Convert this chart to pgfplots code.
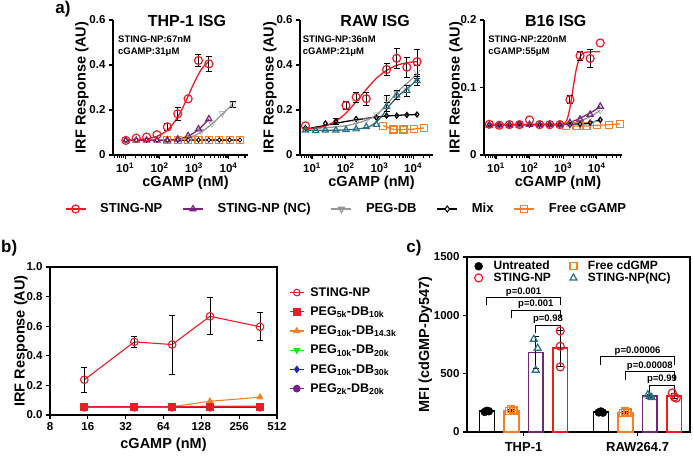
\documentclass[border=0pt]{standalone}
\usepackage{fontspec}
\setmainfont{Liberation Sans}
\usepackage{pgfplots}
\pgfplotsset{compat=1.18}

\definecolor{npred}{RGB}{236,28,36}
\definecolor{ncpurple}{RGB}{118,38,122}
\definecolor{pegray}{RGB}{150,150,150}
\definecolor{freeorange}{RGB}{245,128,37}
\definecolor{ncteal}{RGB}{38,112,130}
\definecolor{bgreen}{RGB}{40,220,40}
\definecolor{bblue}{RGB}{28,40,190}
\definecolor{bpurple}{RGB}{122,30,150}

\newcommand\tickf{\fontsize{11.5bp}{12bp}\selectfont\bfseries}
\newcommand\labf{\fontsize{14.5bp}{16bp}\selectfont\bfseries}
\newcommand\titf{\fontsize{16bp}{18bp}\selectfont\bfseries}
\newcommand\annf{\fontsize{9.5bp}{11bp}\selectfont\bfseries}
\newcommand\legaf{\fontsize{13bp}{14bp}\selectfont\bfseries}
\newcommand\legbf{\fontsize{12.5bp}{14bp}\selectfont\bfseries}
\newcommand\legcf{\fontsize{12bp}{13bp}\selectfont\bfseries}
\newcommand\pf{\fontsize{9.5bp}{11bp}\selectfont\bfseries}
\newcommand\tagf{\fontsize{17bp}{19bp}\selectfont\bfseries}

% error bar look shared by all panels
\pgfplotsset{
  errbars/.style={
    error bars/y dir=both, error bars/y explicit,
    error bars/error bar style={draw=black,line width=0.9bp},
    error bars/error mark options={rotate=90,draw=black,mark size=3bp,line width=0.9bp}},
  errsonly/.style={draw=none, mark=none, forget plot, errbars},
  fitline/.style={smooth, no marks, line width=1.3bp, forget plot},
  dots/.style={only marks, forget plot, mark options={line width=1.2bp, solid}},
}

\begin{document}
\begin{tikzpicture}
\useasboundingbox (0bp,0bp) rectangle (693bp,-459bp);

% ---------------- a) THP-1 ISG ----------------
\begin{axis}[scale only axis, width=135bp, height=135bp, anchor=south west, at={(113bp,-155bp)},
  xmode=log, axis lines*=left, axis line style={line width=1.6bp},
  tick align=outside, tick style={black, line width=1.1bp},
  major tick length=4bp, minor tick length=2.5bp,
  xtick={10,100,1000,10000},
  xticklabels={10\textsuperscript{1},10\textsuperscript{2},10\textsuperscript{3},10\textsuperscript{4}},
  minor xtick={5,6,7,8,9,20,30,40,50,60,70,80,90,200,300,400,500,600,700,800,900,2000,3000,4000,5000,6000,7000,8000,9000,20000,30000},
  ytick pos=left, xtick pos=bottom, ticklabel style={font=\tickf},
  xlabel={cGAMP (nM)}, ylabel={IRF Response (AU)}, label style={font=\labf},
  xlabel style={xshift=5bp, yshift=3bp}, ylabel style={yshift=-6bp}, clip=false,
  xmin=4.45, xmax=36700, ymin=0, ymax=0.6,
  ytick={0,0.2,0.4,0.6}, yticklabels={0,0.2,0.4,0.6},
  legend columns=5,
  legend image code/.code={\draw[mark repeat=2,mark phase=2,#1] plot coordinates {(0bp,0bp) (10bp,0bp) (20bp,0bp)};},
  legend style={at={(1.73,-0.40)}, anchor=center, draw=none, fill=none, font=\legaf,
    /tikz/every odd column/.append style={column sep=12bp},
    /tikz/every even column/.append style={column sep=18bp}}]
% free cGAMP
\addplot[freeorange, line width=1.3bp, forget plot] coordinates {(168,0.065) (21504,0.065)};
\addplot[dots, freeorange, mark=square, mark size=3.5bp] coordinates {(168,0.065) (336,0.065) (672,0.065) (1344,0.065) (2688,0.065) (5376,0.065) (10752,0.065) (21504,0.065)};
% mix
\addplot[black, line width=1.3bp, forget plot, mark=diamond*, mark size=2.3bp, mark options={fill=white, line width=0.8bp}] coordinates {(10.5,0.066) (21,0.066) (42,0.066) (84,0.066) (168,0.066) (336,0.066) (672,0.066) (1344,0.067) (2688,0.067) (5376,0.067) (10752,0.067) (21504,0.067)};
% PEG-DB
\addplot[fitline, pegray] coordinates {(200,0.065) (400,0.068) (800,0.078) (1600,0.102) (3300,0.138) (6600,0.182) (13200,0.225)};
\addplot[errsonly] coordinates {(13200,0.225) +- (0,0.012)};
\addplot[dots, pegray, mark=triangle, mark size=3.5bp, mark options={rotate=180}] coordinates {(400,0.067) (800,0.077) (1600,0.105) (3300,0.138) (6600,0.185) (13200,0.225)};
% STING-NP (NC)
\addplot[fitline, ncpurple] coordinates {(10.5,0.065) (84,0.065) (168,0.066) (336,0.071) (672,0.084) (1344,0.113) (2688,0.16)};
\addplot[dots, ncpurple, mark=triangle, mark size=3.5bp] coordinates {(10.5,0.065) (21,0.065) (42,0.065) (84,0.065) (168,0.066) (336,0.07) (672,0.085) (1344,0.115) (2688,0.16)};
% STING-NP
\addplot[fitline, npred] coordinates {(10.5,0.066) (20,0.068) (40,0.072) (80,0.082) (150,0.104) (250,0.14) (400,0.19) (600,0.245) (900,0.305) (1300,0.355) (1800,0.39) (2700,0.415)};
\addplot[errsonly] coordinates {(168,0.125) +- (0,0.017) (336,0.183) +- (0,0.03) (1344,0.42) +- (0,0.025) (2688,0.405) +- (0,0.035)};
\addplot[dots, npred, mark=o, mark size=4bp] coordinates {(10.5,0.065) (21,0.075) (42,0.08) (84,0.09) (168,0.125) (336,0.183) (672,0.25) (1344,0.42) (2688,0.405)};
% legend
\addlegendimage{npred, line width=1.3bp, mark=o, mark size=4bp, mark options={line width=1.2bp}}
\addlegendentry{STING-NP}
\addlegendimage{ncpurple, line width=1.3bp, mark=triangle, mark size=3.5bp, mark options={line width=1.2bp}}
\addlegendentry{STING-NP (NC)}
\addlegendimage{pegray, line width=1.3bp, mark=triangle, mark size=3.5bp, mark options={rotate=180, line width=1.2bp}}
\addlegendentry{PEG-DB}
\addlegendimage{black, line width=1.3bp, mark=diamond*, mark size=3bp, mark options={fill=white, line width=1bp}}
\addlegendentry{Mix}
\addlegendimage{freeorange, line width=1.3bp, mark=square, mark size=3.5bp, mark options={line width=1.2bp}}
\addlegendentry{Free cGAMP}
\node[font=\titf] at (rel axis cs:0.548,0.993) {THP-1 ISG};
\node[font=\annf, anchor=west, inner sep=0pt] at (rel axis cs:0.037,0.859) {STING-NP:67nM};
\node[font=\annf, anchor=west, inner sep=0pt] at (rel axis cs:0.037,0.761) {cGAMP:31μM};
\end{axis}

% ---------------- a) RAW ISG ----------------
\begin{axis}[scale only axis, width=133bp, height=135bp, anchor=south west, at={(300bp,-155bp)},
  xmode=log, axis lines*=left, axis line style={line width=1.6bp},
  tick align=outside, tick style={black, line width=1.1bp},
  major tick length=4bp, minor tick length=2.5bp,
  xtick={10,100,1000,10000},
  xticklabels={10\textsuperscript{1},10\textsuperscript{2},10\textsuperscript{3},10\textsuperscript{4}},
  minor xtick={5,6,7,8,9,20,30,40,50,60,70,80,90,200,300,400,500,600,700,800,900,2000,3000,4000,5000,6000,7000,8000,9000,20000,30000},
  ytick pos=left, xtick pos=bottom, ticklabel style={font=\tickf},
  xlabel={cGAMP (nM)}, ylabel={IRF Response (AU)}, label style={font=\labf},
  xlabel style={xshift=5bp, yshift=3bp}, ylabel style={yshift=-7bp}, clip=false,
  xmin=4.4, xmax=38900, ymin=0, ymax=0.6,
  ytick={0,0.2,0.4,0.6}, yticklabels={0,0.2,0.4,0.6}]
% free cGAMP
\addplot[freeorange, line width=1.3bp, forget plot, mark=square, mark size=3.5bp, mark options={line width=1.2bp}] coordinates {(1300,0.13) (2600,0.113) (5200,0.113) (10400,0.115) (20800,0.12)};
% mix
\addplot[fitline, black] coordinates {(6.4,0.115) (30,0.134) (100,0.149) (300,0.16) (1000,0.17) (3000,0.176) (13040,0.18)};
\addplot[errsonly] coordinates {(51,0.15) +- (0,0.012)};
\addplot[dots, black, mark=diamond, mark size=2.5bp] coordinates {(6.4,0.12) (25,0.14) (51,0.15) (204,0.16) (816,0.166) (1630,0.175) (3260,0.175) (6520,0.178) (13040,0.18)};
% PEG-DB
\addplot[fitline, pegray] coordinates {(6.4,0.115) (100,0.13) (500,0.16) (1000,0.19) (2000,0.24) (4000,0.29) (8000,0.33) (13040,0.36)};
\addplot[errsonly] coordinates {(1630,0.25) +- (0,0.015) (13040,0.37) +- (0,0.03)};
\addplot[dots, pegray, mark=triangle, mark size=3.5bp, mark options={rotate=180}] coordinates {(204,0.145) (408,0.155) (816,0.18) (1630,0.25) (3260,0.275) (6520,0.29) (13040,0.37)};
% STING-NP (NC)
\addplot[fitline, ncteal] coordinates {(6.4,0.11) (50,0.11) (200,0.115) (500,0.126) (1000,0.16) (2000,0.22) (4000,0.268) (8000,0.305) (13040,0.335)};
\addplot[errsonly] coordinates {(1630,0.215) +- (0,0.02) (3260,0.265) +- (0,0.02) (6520,0.285) +- (0,0.025) (13040,0.33) +- (0,0.02)};
\addplot[dots, ncteal, mark=triangle, mark size=3.5bp] coordinates {(6.4,0.11) (12.8,0.108) (25,0.11) (51,0.11) (102,0.112) (204,0.115) (408,0.125) (816,0.135) (1630,0.215) (3260,0.265) (6520,0.285) (13040,0.33)};
% STING-NP
\addplot[fitline, npred] coordinates {(6.4,0.115) (20,0.125) (50,0.15) (100,0.185) (200,0.235) (400,0.29) (800,0.34) (1600,0.375) (3200,0.398) (6400,0.41) (13040,0.415)};
\addplot[errsonly] coordinates {(102,0.22) +- (0,0.018) (204,0.257) +- (0,0.022) (408,0.25) +- (0,0.03) (1630,0.38) +- (0,0.025) (3260,0.43) +- (0,0.045) (6520,0.39) +- (0,0.045) (13040,0.415) +- (0,0.055)};
\addplot[dots, npred, mark=o, mark size=4bp] coordinates {(6.4,0.13) (102,0.22) (204,0.257) (408,0.25) (1630,0.38) (3260,0.43) (6520,0.39) (13040,0.415)};
\node[font=\titf] at (rel axis cs:0.565,0.993) {RAW ISG};
\node[font=\annf, anchor=west, inner sep=0pt] at (rel axis cs:0.02,0.859) {STING-NP:36nM};
\node[font=\annf, anchor=west, inner sep=0pt] at (rel axis cs:0.02,0.761) {cGAMP:21μM};
\end{axis}

% ---------------- a) B16 ISG ----------------
\begin{axis}[scale only axis, width=138bp, height=135bp, anchor=south west, at={(484bp,-155bp)},
  xmode=log, axis lines*=left, axis line style={line width=1.6bp},
  tick align=outside, tick style={black, line width=1.1bp},
  major tick length=4bp, minor tick length=2.5bp,
  xtick={10,100,1000,10000},
  xticklabels={10\textsuperscript{1},10\textsuperscript{2},10\textsuperscript{3},10\textsuperscript{4}},
  minor xtick={5,6,7,8,9,20,30,40,50,60,70,80,90,200,300,400,500,600,700,800,900,2000,3000,4000,5000,6000,7000,8000,9000,20000,30000,40000,50000},
  ytick pos=left, xtick pos=bottom, ticklabel style={font=\tickf},
  xlabel={cGAMP (nM)}, ylabel={IRF Response (AU)}, label style={font=\labf},
  xlabel style={xshift=5bp, yshift=3bp}, ylabel style={yshift=-9bp}, clip=false,
  xmin=4.39, xmax=57000, ymin=0, ymax=0.2,
  ytick={0,0.1,0.2}, yticklabels={0,0.1,0.2}]
% free cGAMP
\addplot[freeorange, line width=1.3bp, forget plot, mark=square, mark size=3.5bp, mark options={line width=1.2bp}] coordinates {(1200,0.043) (2500,0.043) (5000,0.043) (10500,0.044) (24000,0.045) (50000,0.046)};
% mix
\addplot[fitline, black] coordinates {(6.3,0.045) (3000,0.046) (6400,0.048) (12800,0.052)};
\addplot[dots, black, mark=diamond, mark size=2.5bp] coordinates {(6.3,0.045) (12.5,0.045) (25,0.045) (50,0.047) (100,0.045) (200,0.045) (400,0.045) (800,0.045) (1600,0.045) (3200,0.046) (6400,0.048) (12800,0.052)};
% PEG-DB
\addplot[fitline, pegray] coordinates {(6.3,0.045) (1000,0.046) (4000,0.052) (12800,0.066)};
\addplot[dots, pegray, mark=triangle, mark size=3.5bp, mark options={rotate=180}] coordinates {(1600,0.047) (3200,0.05) (6400,0.056) (12800,0.066)};
% STING-NP (NC)
\addplot[fitline, ncpurple] coordinates {(6.3,0.045) (800,0.045) (2000,0.05) (4000,0.057) (8000,0.065) (12800,0.072)};
\addplot[dots, ncpurple, mark=triangle, mark size=3.5bp] coordinates {(6.3,0.044) (12.5,0.044) (25,0.044) (50,0.044) (100,0.045) (200,0.045) (400,0.045) (800,0.045) (1600,0.048) (3200,0.053) (6400,0.06) (12800,0.072)};
% STING-NP
\addplot[fitline, npred] coordinates {(6.3,0.045) (500,0.045) (1000,0.046) (1300,0.052) (1600,0.07) (2000,0.1) (2500,0.128) (3200,0.145) (4500,0.152) (12800,0.153)};
\addplot[errsonly] coordinates {(1600,0.082) +- (0,0.006) (3200,0.147) +- (0,0.007) (6400,0.143) +- (0,0.013)};
\addplot[dots, npred, mark=o, mark size=4bp] coordinates {(6.3,0.0455) (12.5,0.044) (25,0.045) (50,0.045) (100,0.052) (200,0.045) (400,0.045) (800,0.045) (1600,0.082) (3200,0.147) (6400,0.143) (12800,0.166)};
\node[font=\titf] at (rel axis cs:0.52,0.993) {B16 ISG};
\node[font=\annf, anchor=west, inner sep=0pt] at (rel axis cs:0.03,0.859) {STING-NP:220nM};
\node[font=\annf, anchor=west, inner sep=0pt] at (rel axis cs:0.03,0.761) {cGAMP:55μM};
\end{axis}

% ---------------- b) polymer comparison ----------------
\begin{axis}[scale only axis, anchor=south west, at={(50bp,-415bp)}, width=227bp, height=148bp,
  axis line style={line width=1.6bp}, tick align=outside, tick style={black, line width=1.1bp},
  major tick length=4bp, xtick pos=bottom, ytick pos=left,
  ticklabel style={font=\tickf}, label style={font=\labf}, clip=false,
  xmode=log, log basis x=2, xmin=8, xmax=512, ymin=0, ymax=1,
  xtick={8,16,32,64,128,256,512}, xticklabels={8,16,32,64,128,256,512},
  ytick={0,0.2,0.4,0.6,0.8,1}, yticklabels={0.0,0.2,0.4,0.6,0.8,1.0},
  xlabel={cGAMP (nM)}, ylabel={IRF Response (AU)}, ylabel style={yshift=-8bp},
  legend cell align=left,
  legend image code/.code={\draw[mark repeat=2,mark phase=2,#1] plot coordinates {(0bp,0bp) (7bp,0bp) (14bp,0bp)};},
  legend style={at={(1.04,0.89)}, anchor=north west, draw=none, fill=none, font=\legbf,
    row sep=5bp, /tikz/every odd column/.append style={column sep=4bp}}]
\addplot[bpurple, line width=1.1bp, mark=*, mark size=3.5bp, forget plot] coordinates {(15,0.05) (37.5,0.05) (75,0.05) (150,0.05) (375,0.05)};
\addplot[bblue, line width=1.1bp, mark=diamond*, mark size=3bp, forget plot] coordinates {(15,0.055) (37.5,0.055) (75,0.055) (150,0.055) (375,0.055)};
\addplot[bgreen!80!black, line width=1.1bp, mark=triangle*, mark size=3bp, mark options={rotate=180}, forget plot] coordinates {(15,0.055) (37.5,0.055) (75,0.055) (150,0.06) (375,0.06)};
\addplot[freeorange, line width=1.1bp, mark=triangle*, mark size=3.2bp, forget plot] coordinates {(15,0.055) (37.5,0.055) (75,0.056) (150,0.093) (375,0.12)};
\addplot[npred, line width=1.1bp, mark=square*, mark size=3.5bp, forget plot] coordinates {(15,0.055) (37.5,0.055) (75,0.055) (150,0.055) (375,0.055)};
\addplot[npred, line width=1.1bp, mark=o, mark size=3.8bp, mark options={line width=1.1bp}, forget plot, errbars] coordinates {(15,0.238) +- (0,0.085) (37.5,0.494) +- (0,0.035) (75,0.476) +- (0,0.2) (150,0.667) +- (0,0.125) (375,0.596) +- (0,0.095)};
\addlegendimage{npred, line width=1.1bp, mark=o, mark size=3.3bp}
\addlegendentry{STING-NP}
\addlegendimage{npred, line width=1.1bp, mark=square*, mark size=3.3bp}
\addlegendentry{PEG\textsubscript{5k}-DB\textsubscript{10k}}
\addlegendimage{freeorange, line width=1.1bp, mark=triangle*, mark size=3.2bp}
\addlegendentry{PEG\textsubscript{10k}-DB\textsubscript{14.3k}}
\addlegendimage{bgreen, line width=1.1bp, mark=triangle*, mark size=3.2bp, mark options={rotate=180}}
\addlegendentry{PEG\textsubscript{10k}-DB\textsubscript{20k}}
\addlegendimage{bblue, line width=1.1bp, mark=diamond*, mark size=3bp}
\addlegendentry{PEG\textsubscript{10k}-DB\textsubscript{30k}}
\addlegendimage{bpurple, line width=1.1bp, mark=*, mark size=3.3bp}
\addlegendentry{PEG\textsubscript{2k}-DB\textsubscript{20k}}
\end{axis}

% ---------------- c) uptake ----------------
\begin{axis}[scale only axis, anchor=south west, at={(467bp,-432bp)}, width=223bp, height=175bp,
  axis line style={line width=1.6bp}, tick align=outside, tick style={black, line width=1.1bp},
  major tick length=4bp, xtick pos=bottom, ytick pos=left,
  ticklabel style={font=\tickf}, label style={font=\labf}, clip=false,
  xmin=0.504, xmax=2.46, ymin=0, ymax=1500,
  xtick={1,2}, xticklabels={THP-1,RAW264.7},
  ytick={0,500,1000,1500}, yticklabels={0,500,1000,1500},
  ylabel={MFI (cdGMP-Dy547)}, ylabel style={yshift=-5bp},
  xticklabel style={font=\fontsize{13bp}{14bp}\selectfont\bfseries, yshift=-3bp},
  legend columns=2, legend cell align=left,
  legend style={at={(0.02,1.0)}, anchor=north west, draw=none, fill=none, font=\legcf,
    row sep=-2.5bp, /tikz/every odd column/.append style={column sep=9bp},
    /tikz/every even column/.append style={column sep=17bp}}]
% bars
\addplot[ybar, bar width=0.13, bar shift=0pt, draw=black, fill=white, line width=1.5bp, forget plot, errbars] coordinates {(0.678,178) +- (0,8) (1.678,170) +- (0,6)};
\addplot[ybar, bar width=0.13, bar shift=0pt, draw=freeorange, fill=white, line width=1.5bp, forget plot, errbars] coordinates {(0.893,185) +- (0,10) (1.893,168) +- (0,8)};
\addplot[ybar, bar width=0.13, bar shift=0pt, draw=ncpurple, fill=white, line width=1.5bp, forget plot, errbars] coordinates {(1.107,681) +- (0,136) (2.107,307) +- (0,13)};
\addplot[ybar, bar width=0.13, bar shift=0pt, draw=npred, fill=white, line width=1.5bp, forget plot, errbars] coordinates {(1.322,720) +- (0,154) (2.322,308) +- (0,24)};
% replicates
\addplot[only marks, black, mark=*, mark size=4bp] coordinates {(0.66,172) (0.678,182) (0.696,178) (1.66,168) (1.678,176) (1.696,166)};
\addlegendentry{Untreated}
\addplot[only marks, freeorange, mark=square, mark size=3.5bp, mark options={line width=1.2bp}] coordinates {(0.875,178) (0.893,195) (0.911,184) (1.875,162) (1.893,176) (1.911,168)};
\addlegendentry{Free cdGMP}
\addplot[only marks, npred, mark=o, mark size=4bp, mark options={line width=1.2bp}] coordinates {(1.322,866) (1.322,735) (1.322,558) (2.305,335) (2.322,300) (2.34,290)};
\addlegendentry{STING-NP}
\addplot[only marks, ncteal, mark=triangle, mark size=4bp, mark options={line width=1.2bp}] coordinates {(1.09,795) (1.124,718) (1.107,530) (2.09,320) (2.107,305) (2.124,295)};
\addlegendentry{STING-NP(NC)}
% significance brackets
\draw[line width=1.1bp] (axis cs:0.678,1085) -- (axis cs:0.678,1150) -- node[above, font=\pf, inner sep=1bp] {p=0.001} (axis cs:1.322,1150) -- (axis cs:1.322,1085);
\draw[line width=1.1bp] (axis cs:0.893,975) -- (axis cs:0.893,1043) -- node[above, font=\pf, inner sep=1bp] {p=0.001} (axis cs:1.322,1043) -- (axis cs:1.322,975);
\draw[line width=1.1bp] (axis cs:1.107,848) -- (axis cs:1.107,915) -- node[above, font=\pf, inner sep=1bp] {p=0.98} (axis cs:1.322,915) -- (axis cs:1.322,848);
\draw[line width=1.1bp] (axis cs:1.678,576) -- (axis cs:1.678,644) -- node[above, font=\pf, inner sep=1bp] {p=0.00006} (axis cs:2.322,644) -- (axis cs:2.322,576);
\draw[line width=1.1bp] (axis cs:1.893,447) -- (axis cs:1.893,515) -- node[above, font=\pf, inner sep=1bp] {p=0.00008} (axis cs:2.322,515) -- (axis cs:2.322,447);
\draw[line width=1.1bp] (axis cs:2.107,335) -- (axis cs:2.107,402) -- node[above, font=\pf, inner sep=1bp] {p=0.99} (axis cs:2.322,402) -- (axis cs:2.322,335);
\end{axis}

% panel tags
\node[font=\tagf, inner sep=0.5bp, anchor=north] at (63bp,-0.5bp) {a)};
\node[font=\tagf, inner sep=0.5bp, anchor=west] at (0.5bp,-248bp) {b)};
\node[font=\tagf, inner sep=0.5bp] at (414bp,-248bp) {c)};
\end{tikzpicture}
\end{document}
